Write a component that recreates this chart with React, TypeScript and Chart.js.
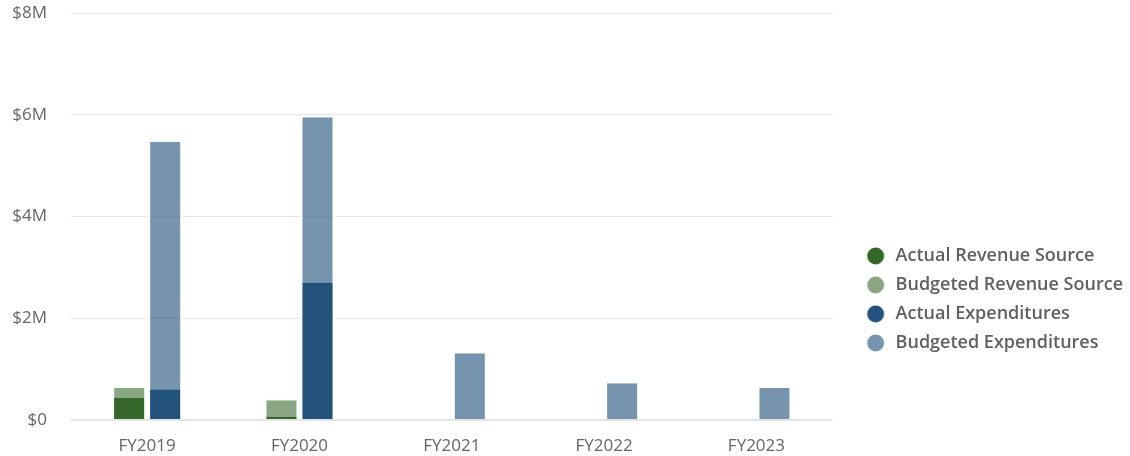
import React, { useEffect, useRef } from "react";
import { Chart, registerables } from "chart.js";

Chart.register(...registerables);

const categories = ["FY2019", "FY2020", "FY2021", "FY2022", "FY2023"];
const actualRevenue = [430000, 65000, null, null, null];
const budgetedRevenue = [630000, 390000, null, null, null];
const actualExpenditures = [600000, 2700000, null, null, null];
const budgetedExpenditures = [5470000, 5950000, 1310000, 720000, 630000];
const seriesNames = [
  "Actual Revenue Source",
  "Budgeted Revenue Source",
  "Actual Expenditures",
  "Budgeted Expenditures",
];
const yTicks = [0, 2000000, 4000000, 6000000, 8000000];

const colors = [
  "#33682a",
  "rgba(51,104,42,0.58)",
  "#23527c",
  "rgba(35,82,124,0.62)",
];

function makeDot(color: string) {
  const c = document.createElement("canvas");
  c.width = 43;
  c.height = 18;
  const g = c.getContext("2d")!;
  g.fillStyle = color;
  g.beginPath();
  g.arc(32, 9, 8.5, 0, Math.PI * 2);
  g.fill();
  return c;
}

export default function App() {
  const ref = useRef<HTMLCanvasElement>(null);
  useEffect(() => {
    const dots = colors.map(makeDot);
    const font = "'Open Sans', sans-serif";
    const chart = new Chart(ref.current!, {
      type: "bar",
      data: {
        labels: categories,
        datasets: [
          { label: seriesNames[0], data: actualRevenue, stack: "rev", backgroundColor: colors[0] },
          { label: seriesNames[1], data: budgetedRevenue, stack: "rev", backgroundColor: colors[1] },
          { label: seriesNames[2], data: actualExpenditures, stack: "exp", backgroundColor: colors[2] },
          { label: seriesNames[3], data: budgetedExpenditures, stack: "exp", backgroundColor: colors[3] },
        ].map((d) => ({
          ...d,
          borderColor: "#ffffff",
          borderWidth: { left: 3, right: 3, top: 0, bottom: 0 },
          borderSkipped: false,
          categoryPercentage: 0.473,
          barPercentage: 1,
        })) as any,
      },
      options: {
        animation: false,
        responsive: true,
        maintainAspectRatio: false,
        layout: { padding: { top: 13, right: -3, bottom: 0, left: 0 } },
        scales: {
          x: {
            stacked: true,
            grid: { display: false, drawTicks: false },
            border: { display: false },
            ticks: { color: "#666", font: { family: font, size: 17 }, padding: 16 },
            afterFit: (s: any) => {
              s.height = 36;
            },
          },
          y: {
            stacked: false,
            min: 0,
            max: 8000000,
            afterBuildTicks: (s: any) => {
              s.ticks = yTicks.map((v) => ({ value: v }));
            },
            grid: {
              color: "#e4e4e4",
              lineWidth: (c: any) => (c.tick && c.tick.value === 0 ? 2 : 1),
              drawTicks: false,
            },
            border: { display: false },
            ticks: {
              color: "#666",
              font: { family: font, size: 17 },
              padding: 24,
              callback: (v: any) => (v === 0 ? "$0" : "$" + v / 1000000 + "M"),
            },
            afterFit: (s: any) => {
              s.width = 71;
              s.paddingTop = 10;
              s.paddingBottom = 10;
            },
          },
        },
        plugins: {
          tooltip: { enabled: false },
          legend: {
            position: "right",
            maxWidth: 400,
            title: { display: true, text: " ", font: { size: 10 }, padding: { top: 118, bottom: 0 } },
            labels: {
              usePointStyle: true,
              pointStyleWidth: 43,
              padding: 11,
              color: "#606060",
              font: { family: font, size: 18, weight: "600" },
              generateLabels: (ch: any) =>
                Chart.defaults.plugins.legend.labels.generateLabels(ch).map((l: any, i: number) => ({
                  ...l,
                  pointStyle: dots[i],
                  lineWidth: 0,
                  strokeStyle: "transparent",
                })),
            },
          },
        },
      },
    });
    return () => chart.destroy();
  }, []);
  return (
    <div style={{ position: "fixed", left: 0, top: 0, width: 1130, height: 456 }}>
      <canvas ref={ref} />
    </div>
  );
}
